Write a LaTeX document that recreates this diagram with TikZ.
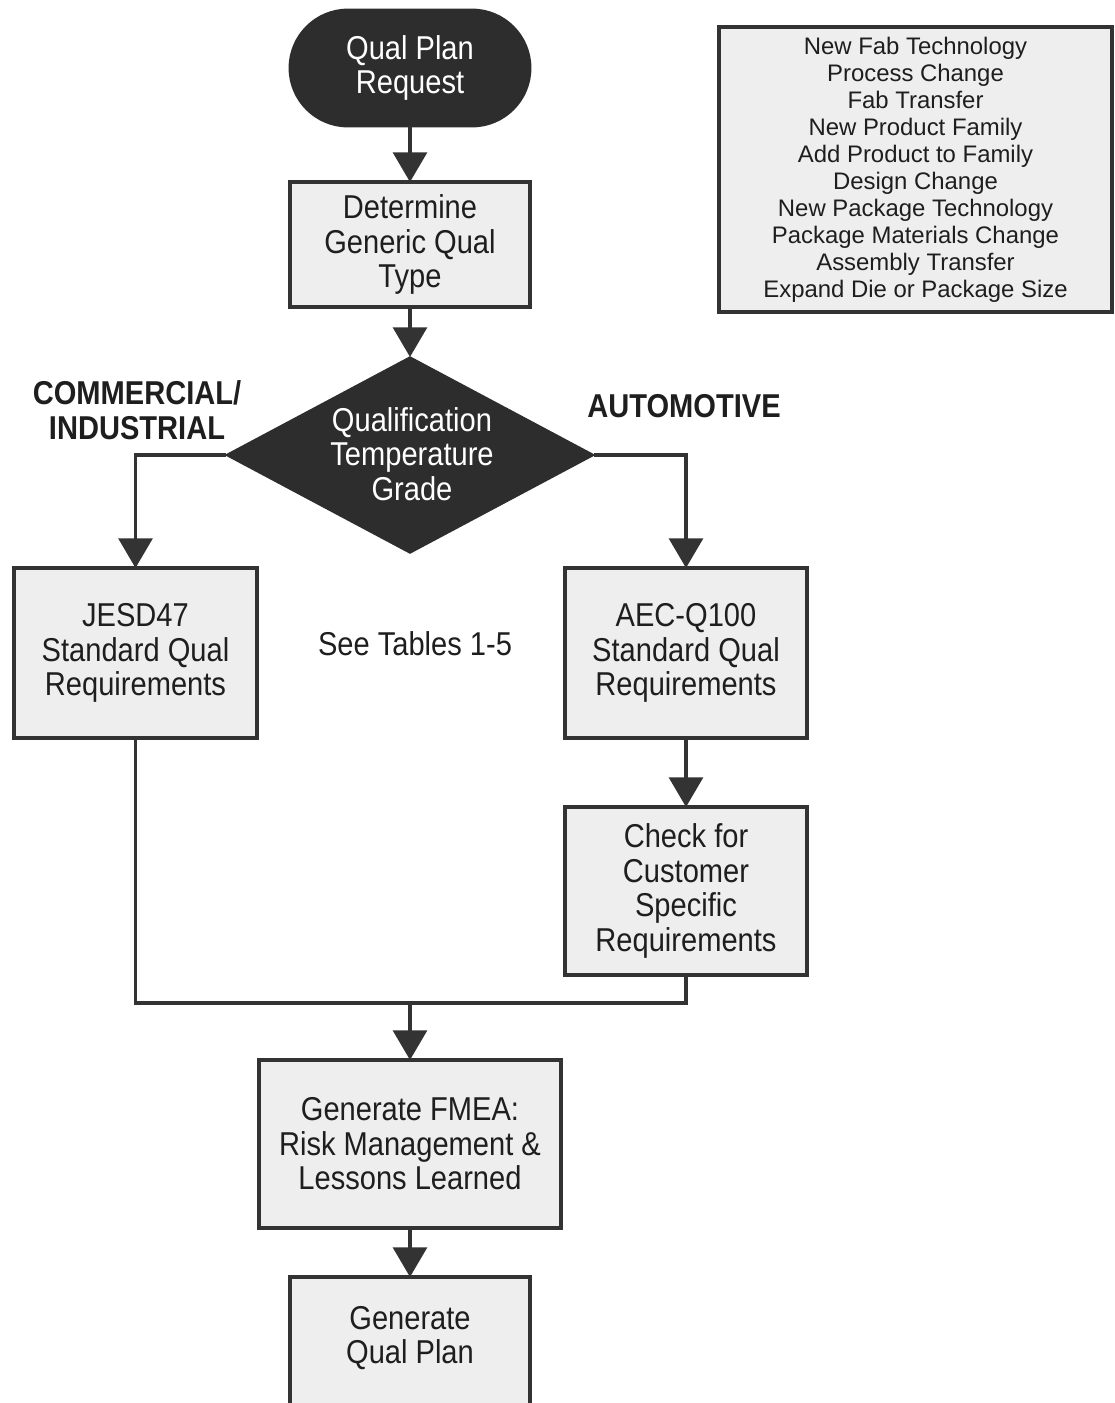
\documentclass[tikz,border=0pt]{standalone}
\usepackage{fontspec}
\setmainfont{Liberation Sans}[FakeStretch=0.88]
\newfontfamily\listfont{Liberation Sans}
\usetikzlibrary{arrows.meta,shapes.geometric}
\definecolor{darkfill}{HTML}{2D2D2D}
\definecolor{boxfill}{HTML}{EEEEEE}
\definecolor{linec}{HTML}{333333}
\definecolor{txt}{HTML}{1E1E1E}
\begin{document}
\begin{tikzpicture}[x=0.025cm,y=-0.025cm,
  every node/.style={inner sep=0pt, outer sep=0pt},
  mtext/.style={font=\fontsize{23.5}{24.5}\selectfont},
  procbox/.style={draw=linec, line width=2.6pt, fill=boxfill, text=txt, align=center, mtext},
  term/.style={draw=darkfill, fill=darkfill, line width=2pt, text=white, align=center, mtext, rounded corners=1.45cm},
  conn/.style={draw=linec, line width=2.4pt},
  arr/.style={conn, -{Triangle[length=21pt,width=24pt]}},
  lbl/.style={mtext, text=txt, align=center},
]
\useasboundingbox (0,0) rectangle (1115,1403);

% nodes
\node[term, minimum width=6cm, minimum height=2.9cm] (start) at (410,68) {Qual Plan\\Request};
\node[procbox, minimum width=6cm, minimum height=3.125cm] (det) at (410,244.5) {Determine\\Generic Qual\\Type};
\node[draw=darkfill, fill=darkfill, line width=1pt, shape=diamond, minimum width=9.2cm, minimum height=4.9cm] (dia) at (410,455) {};
\node[mtext, text=white, align=center] (diatext) at (412,454) {Qualification\\Temperature\\Grade};
\node[procbox, minimum width=6.075cm, minimum height=4.25cm] (jesd) at (135.5,653) {JESD47\\Standard Qual\\Requirements};
\node[procbox, minimum width=6.05cm, minimum height=4.25cm] (aec) at (686,653) {AEC-Q100\\Standard Qual\\Requirements};
\node[procbox, minimum width=6.05cm, minimum height=4.2cm] (check) at (686,891) {Check for\\Customer\\Specific\\Requirements};
\node[procbox, minimum width=7.55cm, minimum height=4.2cm] (fmea) at (410,1144) {Generate FMEA:\\Risk Management \&\\Lessons Learned};
\node[procbox, minimum width=6cm, minimum height=3.4cm] (plan) at (410,1345) {};
\node[lbl] (plantext) at (410,1338) {Generate\\Qual Plan};

\node[draw=linec, line width=2.8pt, fill=boxfill, text=txt, align=center,
      minimum width=9.825cm, minimum height=7.125cm,
      font=\listfont\fontsize{17}{19.2}\selectfont] (list) at (915.5,169.5)
  {New Fab Technology\\Process Change\\Fab Transfer\\New Product Family\\Add Product to Family\\Design Change\\New Package Technology\\Package Materials Change\\Assembly Transfer\\Expand Die or Package Size};

\node[lbl, font=\fontsize{23.5}{24.5}\selectfont\bfseries] (comm) at (137,410) {COMMERCIAL/\\INDUSTRIAL};
\node[lbl, font=\fontsize{23.5}{24.5}\selectfont\bfseries] (auto) at (684,406) {AUTOMOTIVE};
\node[lbl] (see) at (415,644) {See Tables 1-5};

% connectors
\draw[arr] (start.south) -- (det.north);
\draw[arr] (det.south) -- (dia.north);
\draw[arr] (dia.west) -| (jesd.north);
\draw[arr] (dia.east) -| (aec.north);
\draw[arr] (aec.south) -- (check.north);
\coordinate (merge) at (410,1003);
\draw[conn] (jesd.south) -- (jesd.south |- merge) -- (check.south |- merge) -- (check.south);
\draw[arr] (merge) -- (fmea.north);
\draw[arr] (fmea.south) -- (plan.north);
\end{tikzpicture}
\end{document}
